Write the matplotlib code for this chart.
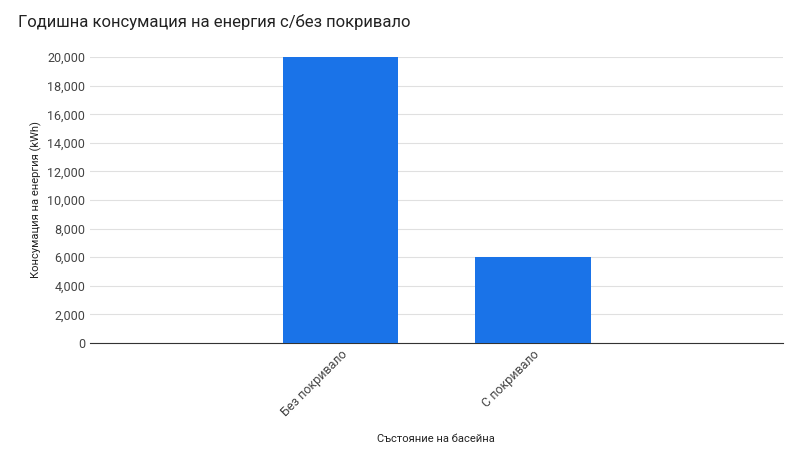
import matplotlib
matplotlib.use("Agg")
import matplotlib.pyplot as plt
from matplotlib.ticker import FuncFormatter

categories = ["Без покривало", "С покривало"]
values = [20000, 6000]
yticks = list(range(0, 20001, 2000))

plt.rcParams['font.family'] = ['Roboto', 'DejaVu Sans']
fig = plt.figure(figsize=(8, 4.5), dpi=100)
ax = fig.add_axes([0.1125, 0.238, 0.8665, 0.635])
x = list(range(len(categories)))
ax.bar(x, values, width=0.6, color="#1a73e8", zorder=3)
ax.set_xlim(-1.3, 2.3)
ax.set_ylim(0, 20000)
ax.set_yticks(yticks)
ax.yaxis.set_major_formatter(FuncFormatter(lambda v, p: f"{int(v):,}"))
ax.grid(axis='y', color="#e0e0e0", linewidth=0.8, zorder=0)
for s in ['top', 'right', 'left']:
    ax.spines[s].set_visible(False)
ax.spines['bottom'].set_color("#333333")
ax.tick_params(axis='y', length=0, labelsize=9, colors="#444444")
ax.tick_params(axis='x', length=0, labelsize=9, colors="#444444")
ax.set_xticks(x)
ax.set_xticklabels(categories, rotation=45, ha='right', rotation_mode='anchor')
fig.text(0.545, 0.025, "Състояние на басейна", fontsize=8, color="#222222", ha='center', va='center')
ax.set_ylabel("Консумация на енергия (kWh)", fontsize=8, color="#222222")
fig.text(0.0225, 0.97, "Годишна консумация на енергия с/без покривало", fontsize=12,
         color="#222222", va='top')
fig.savefig("out.png")
